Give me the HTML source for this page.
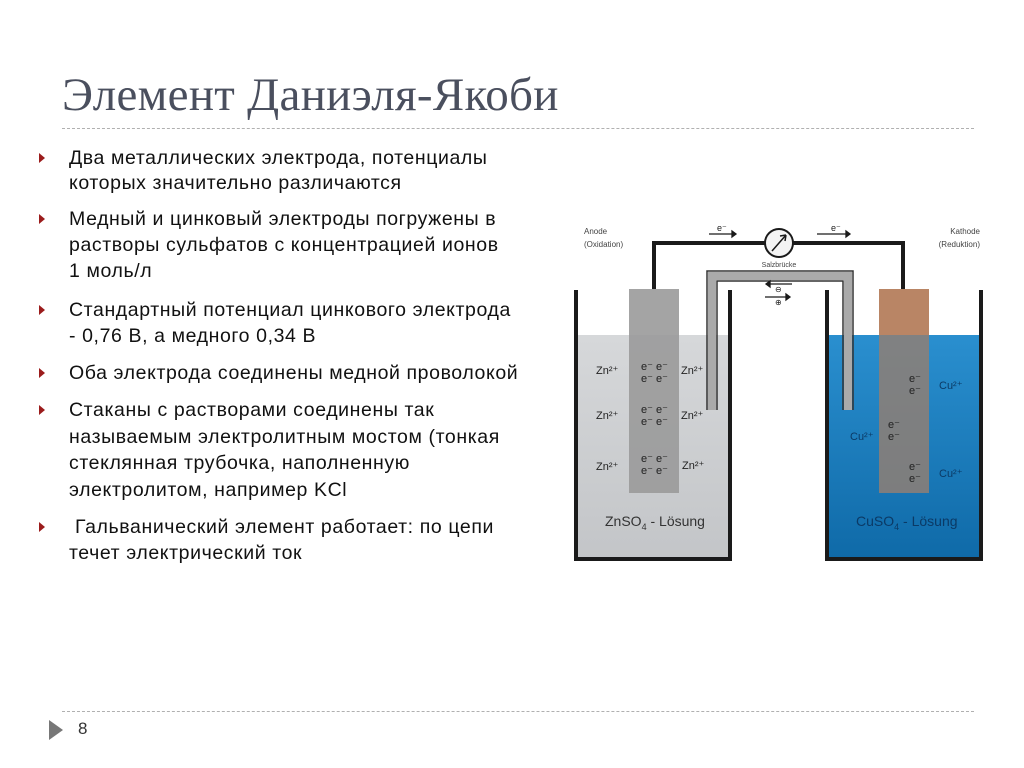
<!DOCTYPE html>
<html><head><meta charset="utf-8"><style>
body{margin:0;width:1024px;height:768px;background:#fff;position:relative;overflow:hidden;font-family:"Liberation Sans",sans-serif}
.t{position:absolute;left:62px;top:68px;font-family:"Liberation Serif",serif;font-size:47px;color:#4a4f5e;white-space:nowrap;letter-spacing:0.3px}
.dl{position:absolute;left:62px;width:912px;border-top:1px dashed #b0b0b0}
.l{position:absolute;left:69px;font-size:19.5px;letter-spacing:0.6px;color:#111;white-space:nowrap;line-height:22px}
.b{position:absolute;left:39px;width:0;height:0;border-left:6px solid #9b1c1c;border-top:5px solid transparent;border-bottom:5px solid transparent}
</style></head><body>
<div class="t">Элемент Даниэля-Якоби</div>
<div class="dl" style="top:128px"></div>
<div class="b" style="top:153px"></div>
<div class="l" style="top:147px">Два металлических электрода, потенциалы</div>
<div class="l" style="top:172px">которых значительно различаются</div>
<div class="b" style="top:214px"></div>
<div class="l" style="top:208px">Медный и цинковый электроды погружены в</div>
<div class="l" style="top:234px">растворы сульфатов с концентрацией ионов</div>
<div class="l" style="top:260px">1 моль/л</div>
<div class="b" style="top:305px"></div>
<div class="l" style="top:299px">Стандартный потенциал цинкового электрода</div>
<div class="l" style="top:325px">- 0,76 В, а медного 0,34 В</div>
<div class="b" style="top:368px"></div>
<div class="l" style="top:362px">Оба электрода соединены медной проволокой</div>
<div class="b" style="top:405px"></div>
<div class="l" style="top:399px">Стаканы с растворами соединены так</div>
<div class="l" style="top:426px">называемым электролитным мостом (тонкая</div>
<div class="l" style="top:452px">стеклянная трубочка, наполненную</div>
<div class="l" style="top:479px">электролитом, например KCl</div>
<div class="b" style="top:522px"></div>
<div class="l" style="top:516px">&nbsp;Гальванический элемент работает: по цепи</div>
<div class="l" style="top:542px">течет электрический ток</div>
<div class="dl" style="top:711px"></div>
<div style="position:absolute;left:49px;top:720px;width:0;height:0;border-left:14px solid #777;border-top:10px solid transparent;border-bottom:10px solid transparent"></div>
<div style="position:absolute;left:78px;top:719px;font-size:17px;color:#333">8</div>
<svg style="position:absolute;left:0;top:0" width="1024" height="768" font-family="Liberation Sans, sans-serif">
<defs>
<linearGradient id="blue" x1="0" y1="0" x2="0" y2="1"><stop offset="0" stop-color="#2a8fcf"/><stop offset="1" stop-color="#0f6aa8"/></linearGradient>
<linearGradient id="gray" x1="0" y1="0" x2="0" y2="1"><stop offset="0" stop-color="#d6d8da"/><stop offset="1" stop-color="#c3c5c8"/></linearGradient>
</defs>
<rect x="576" y="335" width="154" height="224" fill="url(#gray)"/>
<rect x="827" y="335" width="154" height="224" fill="url(#blue)"/>
<rect x="629" y="289" width="50" height="204" fill="#9a9a9a" opacity="0.9"/>
<rect x="879" y="289" width="50" height="46" fill="#b98565"/>
<rect x="879" y="335" width="50" height="158" fill="#8f7f74" opacity="0.85"/>
<path d="M576 290V559H730V290M827 290V559H981V290" fill="none" stroke="#1a1a1a" stroke-width="4"/>
<path d="M654 289V243H765M793 243H903V289" fill="none" stroke="#1a1a1a" stroke-width="4"/>
<circle cx="779" cy="243" r="14" fill="#f4f4f4" stroke="#1a1a1a" stroke-width="2"/>
<path d="M772 251L786 235M786 235l-6 1M786 235l-1 6" stroke="#1a1a1a" stroke-width="1.5" fill="none"/>
<path d="M712 410V276H848V410" fill="none" stroke="#aaa" stroke-width="8"/>
<path d="M707 410V271H853V410" fill="none" stroke="#333" stroke-width="1.5"/>
<path d="M717 410V281H843V410" fill="none" stroke="#333" stroke-width="1.5"/>
<g font-size="8" fill="#444"><text x="584" y="234">Anode</text><text x="584" y="247">(Oxidation)</text>
<text x="980" y="234" text-anchor="end">Kathode</text><text x="980" y="247" text-anchor="end">(Reduktion)</text>
<text x="779" y="267" text-anchor="middle" font-size="7">Salzbrücke</text></g>
<g stroke="#1a1a1a" stroke-width="1.3" fill="#1a1a1a">
<path d="M709 234H732M817 234H846"/><path d="M732 231l4 3-4 3zM846 231l4 3-4 3z"/>
<path d="M770 284H792M765 297H786" /><path d="M770 281l-4 3 4 3zM786 294l4 3-4 3z"/></g>
<g font-size="9" fill="#222"><text x="717" y="231">e⁻</text><text x="831" y="231">e⁻</text></g>
<g font-size="8" fill="#222"><text x="775" y="292">⊖</text><text x="775" y="305">⊕</text></g>
<g font-size="11" fill="#222">
<text x="596" y="374">Zn²⁺</text><text x="681" y="374">Zn²⁺</text>
<text x="596" y="419">Zn²⁺</text><text x="681" y="419">Zn²⁺</text>
<text x="596" y="470">Zn²⁺</text><text x="682" y="469">Zn²⁺</text>
<text x="641" y="370">e⁻ e⁻</text><text x="641" y="382">e⁻ e⁻</text>
<text x="641" y="413">e⁻ e⁻</text><text x="641" y="425">e⁻ e⁻</text>
<text x="641" y="462">e⁻ e⁻</text><text x="641" y="474">e⁻ e⁻</text>
<text x="909" y="382">e⁻</text><text x="909" y="394">e⁻</text>
<text x="888" y="428">e⁻</text><text x="888" y="440">e⁻</text>
<text x="909" y="470">e⁻</text><text x="909" y="482">e⁻</text>
</g>
<g font-size="11" fill="#0b3a66"><text x="939" y="389">Cu²⁺</text><text x="850" y="440">Cu²⁺</text><text x="939" y="477">Cu²⁺</text></g>
<text x="605" y="526" font-size="14" fill="#333">ZnSO<tspan font-size="9" dy="4">4</tspan><tspan dy="-4"> - Lösung</tspan></text>
<text x="856" y="526" font-size="14" fill="#0b3a66">CuSO<tspan font-size="9" dy="4">4</tspan><tspan dy="-4"> - Lösung</tspan></text>
</svg>
</body></html>
